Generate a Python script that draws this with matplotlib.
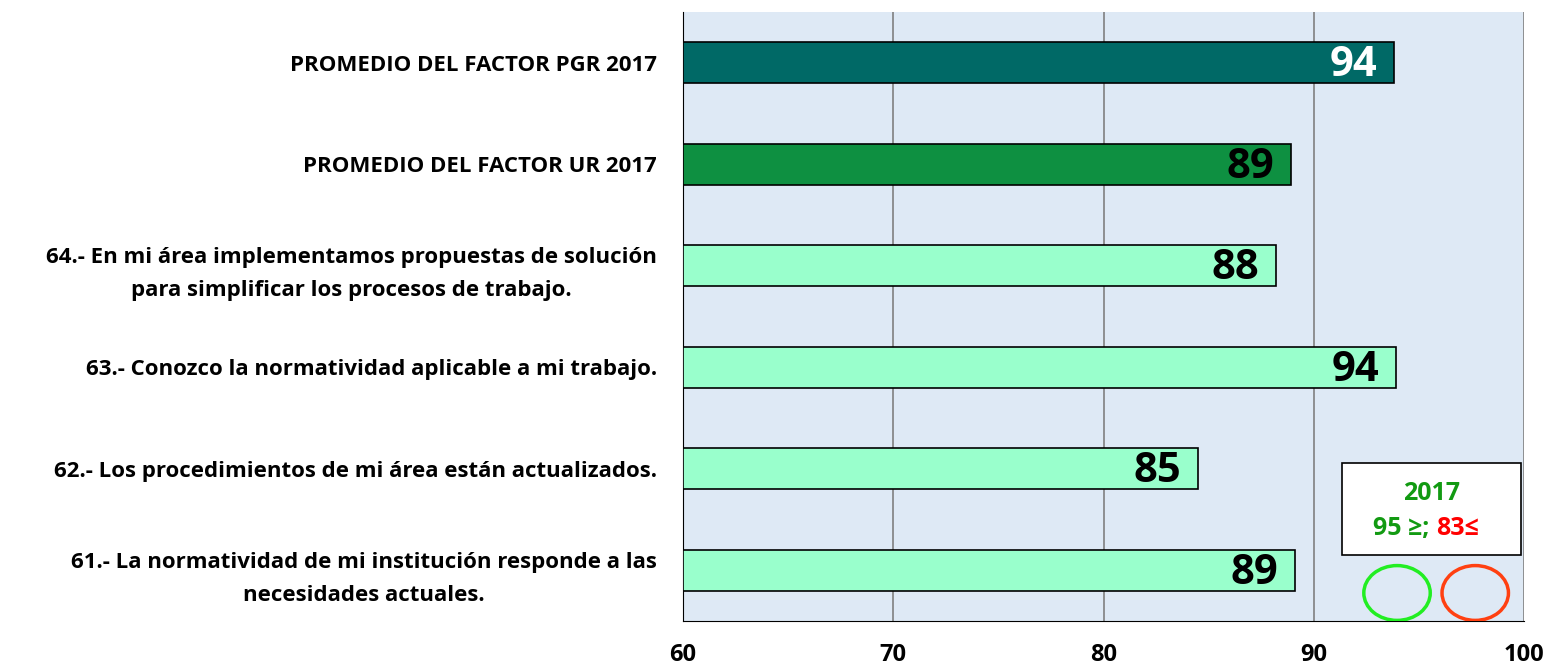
import matplotlib.pyplot as plt
from matplotlib.patches import Ellipse, Rectangle

categories = ["PROMEDIO DEL FACTOR PGR 2017",
              "PROMEDIO DEL FACTOR UR 2017",
              "64.- En mi área implementamos propuestas de solución\npara simplificar los procesos de trabajo.",
              "63.- Conozco la normatividad aplicable a mi trabajo.",
              "62.- Los procedimientos de mi área están actualizados.",
              "61.- La normatividad de mi institución responde a las\nnecesidades actuales."]
values = [93.8, 88.9, 88.2, 93.9, 84.5, 89.1]
labels = ["94", "89", "88", "94", "85", "89"]
bar_colors = ["#006966", "#0E9041", "#99FFCC", "#99FFCC", "#99FFCC", "#99FFCC"]
label_colors = ["white", "black", "black", "black", "black", "black"]
xticks = [60, 70, 80, 90, 100]

plt.rcParams['font.family'] = ['Open Sans', 'DejaVu Sans']

fig = plt.figure(figsize=(15.51, 6.72), dpi=100)
ax = fig.add_axes([0.4404, 0.0759, 0.5422, 0.9062])
ax.set_facecolor("#DEE9F5")

ypos = list(range(len(categories)))
ax.barh(ypos, [v - 60 for v in values], left=60, height=0.4,
        color=bar_colors, edgecolor="black", linewidth=1.2, zorder=3)
for y, v, t, c in zip(ypos, values, labels, label_colors):
    ax.text(v - 0.8, y + 0.03, t, ha="right", va="center", fontsize=30,
            fontweight="bold", color=c, zorder=4)

ax.set_xlim(60, 100)
ax.set_ylim(len(categories) - 0.5, -0.5)
ax.set_xticks(xticks)
ax.set_xticklabels([str(x) for x in xticks], fontsize=17, fontweight="bold")
ax.set_yticks(ypos)
ax.set_yticklabels(categories, fontsize=16, fontweight="bold", ha="right",
                   multialignment="center", linespacing=1.75)
ax.tick_params(axis="both", length=0)
ax.tick_params(axis="x", pad=16)
ax.tick_params(axis="y", pad=19)
ax.grid(axis="x", color="#808080", linewidth=1.2, zorder=1)
for s in ["top", "right"]:
    ax.spines[s].set_visible(False)
ax.spines["left"].set_color("black")
ax.spines["bottom"].set_color("black")

# legend box
ax.add_patch(Rectangle((0.784, 0.109), 0.212, 0.15, transform=ax.transAxes,
                       facecolor="white", edgecolor="black", linewidth=1.2, zorder=5))
ax.text(0.89, 0.21, "2017", transform=ax.transAxes, ha="center", va="center",
        fontsize=18, fontweight="bold", color="#129A12", zorder=6)
ax.text(0.895, 0.152, "95 ≥; ", transform=ax.transAxes, ha="right", va="center",
        fontsize=18, fontweight="bold", color="#129A12", zorder=6)
ax.text(0.895, 0.152, "83≤", transform=ax.transAxes, ha="left", va="center",
        fontsize=18, fontweight="bold", color="#FF0000", zorder=6)
ax.add_patch(Ellipse((0.849, 0.046), 0.079, 0.09, transform=ax.transAxes,
                     fill=False, edgecolor="#22EE22", linewidth=2.5, zorder=5))
ax.add_patch(Ellipse((0.942, 0.046), 0.079, 0.09, transform=ax.transAxes,
                     fill=False, edgecolor="#FF4011", linewidth=2.5, zorder=5))

plt.savefig("out.png", dpi=100)
